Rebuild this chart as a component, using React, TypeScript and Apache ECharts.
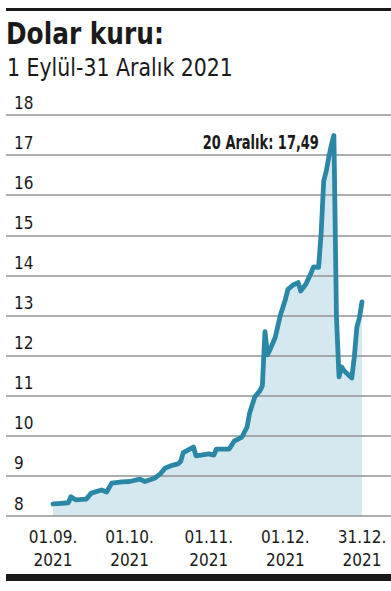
import React, { useEffect, useRef } from "react";
import * as echarts from "echarts";

const YEAR = 2021;
const dates = [
  "09-01", "09-03", "09-07", "09-08", "09-10", "09-14", "09-16", "09-20", "09-22", "09-24", "09-28",
  "10-01", "10-05", "10-07", "10-11", "10-13", "10-15", "10-18", "10-20", "10-21", "10-22", "10-26", "10-27",
  "11-01", "11-03", "11-04", "11-09", "11-11", "11-14", "11-16", "11-17", "11-19", "11-21", "11-22", "11-23",
  "11-24", "11-25", "11-27", "11-29", "11-30",
  "12-01", "12-02", "12-04", "12-06", "12-07", "12-09", "12-11", "12-12", "12-14", "12-15", "12-16", "12-17",
  "12-18", "12-19", "12-20", "12-21", "12-22", "12-23", "12-24", "12-27", "12-28", "12-29", "12-30", "12-31",
];
const rates = [
  8.3, 8.31, 8.33, 8.48, 8.4, 8.42, 8.57, 8.65, 8.6, 8.82, 8.85,
  8.86, 8.92, 8.86, 8.95, 9.05, 9.2, 9.27, 9.3, 9.36, 9.58, 9.72, 9.5,
  9.55, 9.52, 9.67, 9.67, 9.87, 9.97, 10.22, 10.57, 10.97, 11.12, 11.25, 12.6,
  12.02, 12.15, 12.45, 13.0, 13.2,
  13.4, 13.65, 13.76, 13.82, 13.61, 13.78, 14.05, 14.21, 14.2, 15.05, 16.35, 16.6,
  16.95, 17.25, 17.49, 12.96, 11.47, 11.72, 11.62, 11.44, 11.97, 12.71, 12.95, 13.34,
];
const xTickDates = ["09-01", "10-01", "11-01", "12-01", "12-31"];
const xTickLabels = ["01.09.\n2021", "01.10.\n2021", "01.11.\n2021", "01.12.\n2021", "31.12.\n2021"];
const peakDate = "12-20";
const peakValue = 17.49;
const peakLabel = "20 Aralık: 17,49";
const titleText = "Dolar kuru:";
const subtitleText = "1 Eylül-31 Aralık 2021";

const START = Date.UTC(YEAR, 8, 1);
const dayOf = (md: string) => {
  const [m, d] = md.split("-").map(Number);
  return Math.round((Date.UTC(YEAR, m - 1, d) - START) / 86400000);
};

const FONT = "'DejaVu Sans Condensed', 'DejaVu Sans', sans-serif";
const INK = "#1a1a1a";

export default function App() {
  const ref = useRef<HTMLDivElement>(null);
  useEffect(() => {
    if (!ref.current) return;
    const chart = echarts.init(ref.current, null, { renderer: "svg" });
    const points = dates.map((d, i) => [dayOf(d), rates[i]]);
    const tickDays = xTickDates.map(dayOf);
    const labelFor: Record<number, string> = {};
    tickDays.forEach((d, i) => (labelFor[d] = xTickLabels[i]));
    const pxPerDay = 2.554;
    chart.setOption({
      animation: false,
      textStyle: { fontFamily: FONT },
      grid: { left: 6, right: 0, top: 115, bottom: 75 },
      xAxis: {
        type: "value",
        min: -47 / pxPerDay,
        max: 121 + 29 / pxPerDay,
        axisLine: { show: false },
        axisTick: { show: false },
        splitLine: { show: false },
        axisLabel: {
          customValues: tickDays,
          formatter: (v: number) => labelFor[Math.round(v)] ?? "",
          fontFamily: FONT,
          fontSize: 17,
          lineHeight: 23,
          color: INK,
          margin: 9,
        },
      },
      yAxis: {
        type: "value",
        min: 8,
        max: 18,
        interval: 1,
        z: 1.5,
        axisLine: { show: false },
        axisTick: { show: false },
        splitLine: { show: true, lineStyle: { color: "#939393", width: 1.6 } },
        axisLabel: {
          inside: true,
          margin: 8,
          fontFamily: FONT,
          fontSize: 17,
          color: INK,
          verticalAlign: "bottom",
          padding: [0, 0, 4, 0],
        },
      },
      series: [
        {
          type: "line",
          data: points,
          z: 1,
          symbol: "none",
          lineStyle: { width: 0, opacity: 0 },
          areaStyle: { color: "#d6e8ef", opacity: 1, origin: "start" },
        },
        {
          type: "line",
          data: points,
          z: 3,
          symbol: "none",
          lineStyle: { color: "#2a87a6", width: 4.8, join: "round", cap: "round" },
        },
      ],
    });
    const peak = chart.convertToPixel({ gridIndex: 0 }, [dayOf(peakDate), peakValue]) as number[];
    chart.setOption({
      graphic: [
        { type: "rect", shape: { x: 6, y: 8, width: 385, height: 3 }, style: { fill: INK } },
        {
          type: "text",
          x: 6,
          y: 49,
          scaleX: 0.92,
          style: {
            text: titleText,
            font: `bold 30px ${FONT}`,
            fill: INK,
            textVerticalAlign: "bottom",
          },
        },
        {
          type: "text",
          x: 7,
          y: 80,
          scaleX: 0.95,
          style: {
            text: subtitleText,
            font: `24px ${FONT}`,
            fill: INK,
            textVerticalAlign: "bottom",
          },
        },
        {
          type: "text",
          x: peak[0] - 15,
          y: peak[1] + 16,
          scaleX: 0.76,
          z: 10,
          style: {
            text: peakLabel,
            font: `bold 19px ${FONT}`,
            fill: INK,
            textAlign: "right",
            textVerticalAlign: "bottom",
          },
        },
        { type: "rect", shape: { x: 6, y: 574, width: 385, height: 7 }, style: { fill: INK } },
      ],
    });
    return () => chart.dispose();
  }, []);
  return <div ref={ref} style={{ width: 391, height: 591, position: "absolute", left: 0, top: 0 }} />;
}
